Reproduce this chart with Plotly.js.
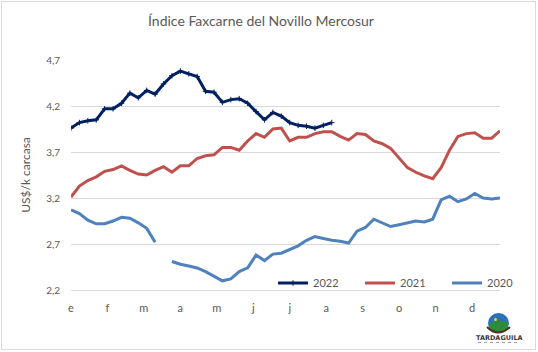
<!DOCTYPE html>
<html>
<head>
<meta charset="utf-8">
<script src="https://cdn.plot.ly/plotly-3.0.1.min.js"></script>
<style>
html,body{margin:0;padding:0;background:#fff;}
#wrap{position:relative;width:538px;height:352px;}
#chart{width:538px;height:352px;}
#frame{position:absolute;left:1px;top:1px;width:533px;height:347px;border:1px solid #d9d9d9;pointer-events:none;}
</style>
</head>
<body>
<div id="wrap"><div id="chart"></div><div id="frame"></div></div>
<script>
// Data (weekly index, US$/kg carcass)
const weeks = Array.from({length: 52}, (_, i) => i + 1);
const monthLabels = ['e','f','m','a','m','j','j','a','s','o','n','d'];
const seriesNames = ['2022', '2021', '2020'];
const values2022 = [3.96,4.02,4.04,4.05,4.17,4.17,4.23,4.34,4.29,4.37,4.33,4.44,4.53,4.58,4.55,4.52,4.36,4.35,4.24,4.27,4.28,4.23,4.14,4.05,4.13,4.09,4.02,3.99,3.98,3.96,3.99,4.02];
const values2021 = [3.21,3.33,3.39,3.43,3.49,3.51,3.55,3.50,3.46,3.45,3.50,3.54,3.48,3.55,3.55,3.63,3.66,3.67,3.75,3.75,3.72,3.82,3.90,3.86,3.95,3.96,3.82,3.86,3.86,3.90,3.92,3.92,3.87,3.83,3.90,3.89,3.82,3.79,3.74,3.64,3.53,3.48,3.44,3.41,3.53,3.72,3.87,3.90,3.91,3.85,3.85,3.93];
const values2020 = [3.07,3.03,2.96,2.92,2.92,2.95,2.99,2.98,2.93,2.87,2.72,null,2.51,2.48,2.46,2.44,2.40,2.35,2.30,2.32,2.40,2.44,2.58,2.52,2.59,2.60,2.64,2.68,2.74,2.78,2.76,2.74,2.73,2.71,2.84,2.88,2.97,2.93,2.89,2.91,2.93,2.95,2.94,2.97,3.18,3.22,3.16,3.19,3.25,3.20,3.19,3.20];

const monthTicks = monthLabels.map((_, i) => 1 + i * 52 / 12);

const FONT = 'Lato, "Open Sans", sans-serif';
const GREY = '#595959';

const traces = [
  {x: weeks.slice(0, values2022.length), y: values2022, name: seriesNames[0], type: 'scatter', mode: 'lines+markers',
   line: {color: '#002060', width: 3}, marker: {symbol: 'cross-thin', size: 4, color: '#002060', line: {color: '#002060', width: 1}}},
  {x: weeks, y: values2021, name: seriesNames[1], type: 'scatter', mode: 'lines',
   line: {color: '#C0504D', width: 3}},
  {x: weeks, y: values2020, name: seriesNames[2], type: 'scatter', mode: 'lines', connectgaps: false,
   line: {color: '#4F81BD', width: 3}}
];

// pixel -> paper helpers for the logo decoration
const L = 71, R = 500, T = 60, B = 290;
const X = p => (p - L) / (R - L);
const Y = p => (B - p) / (B - T);

const shapes = [
  {type: 'circle', xref: 'paper', yref: 'paper', x0: X(488), x1: X(509), y0: Y(333), y1: Y(313),
   fillcolor: '#2a72b8', line: {width: 0}},
  {type: 'path', xref: 'paper', yref: 'paper',
   path: `M ${X(488.5)} ${Y(325)} Q ${X(497)} ${Y(317)} ${X(508.5)} ${Y(323)} L ${X(507)} ${Y(329)} Q ${X(498)} ${Y(334)} ${X(490)} ${Y(329)} Z`,
   fillcolor: '#2e8b3a', line: {width: 0}},
  {type: 'path', xref: 'paper', yref: 'paper',
   path: `M ${X(487)} ${Y(327)} Q ${X(498)} ${Y(338)} ${X(510)} ${Y(327)}`,
   line: {color: '#4a3320', width: 2}},
  {type: 'circle', xref: 'paper', yref: 'paper', x0: X(494), x1: X(497), y0: Y(321), y1: Y(318),
   fillcolor: '#f2d21b', line: {width: 0}},
  {type: 'line', xref: 'paper', yref: 'paper', x0: X(478), x1: X(520), y0: Y(342.5), y1: Y(342.5),
   line: {color: '#a0a0a0', width: 1, dash: 'dot'}}
];

const layout = {
  width: 538, height: 352,
  margin: {l: L, r: 538 - R, t: T, b: 352 - B, pad: 0, autoexpand: false},
  paper_bgcolor: '#fff', plot_bgcolor: '#fff',
  separators: ',.',
  font: {family: FONT, color: GREY, size: 11},
  title: {text: 'Índice Faxcarne del Novillo Mercosur', font: {family: FONT, size: 14, color: GREY},
          xref: 'container', yref: 'container', x: 261 / 538, xanchor: 'center', y: 1 - 21 / 352, yanchor: 'middle'},
  xaxis: {range: [1, 52], tickmode: 'array', tickvals: monthTicks, ticktext: monthLabels,
          showgrid: false, zeroline: false, showline: true, linecolor: '#d9d9d9', linewidth: 1,
          ticks: '', ticklabelstandoff: 8, tickfont: {size: 11, color: GREY}, fixedrange: true},
  yaxis: {range: [2.2, 4.7005], tickmode: 'linear', tick0: 2.2, dtick: 0.5, tickformat: '.1f',
          showgrid: true, gridcolor: '#d9d9d9', gridwidth: 1, zeroline: false, showline: false,
          ticks: '', ticklabelstandoff: 10, tickfont: {size: 10, color: GREY},
          title: {text: 'US$/k carcasa', font: {size: 12, color: GREY}, standoff: 12}, fixedrange: true},
  legend: {orientation: 'h', x: X(273), xanchor: 'left', y: Y(283), yanchor: 'middle',
           font: {size: 11, color: GREY}, bgcolor: 'rgba(0,0,0,0)', entrywidth: 42, entrywidthmode: 'pixels',
           itemwidth: 30, tracegroupgap: 0},
  shapes: shapes,
  annotations: [
    {text: '<b>TARDAGUILA</b>', xref: 'paper', yref: 'paper', x: X(499), y: Y(337.5), xanchor: 'center', yanchor: 'middle',
     showarrow: false, font: {family: '"DejaVu Sans", sans-serif', size: 6.5, color: '#3a3a3a'}}
  ],
  showlegend: true
};

Plotly.newPlot('chart', traces, layout, {displayModeBar: false, staticPlot: true});
</script>
</body>
</html>
